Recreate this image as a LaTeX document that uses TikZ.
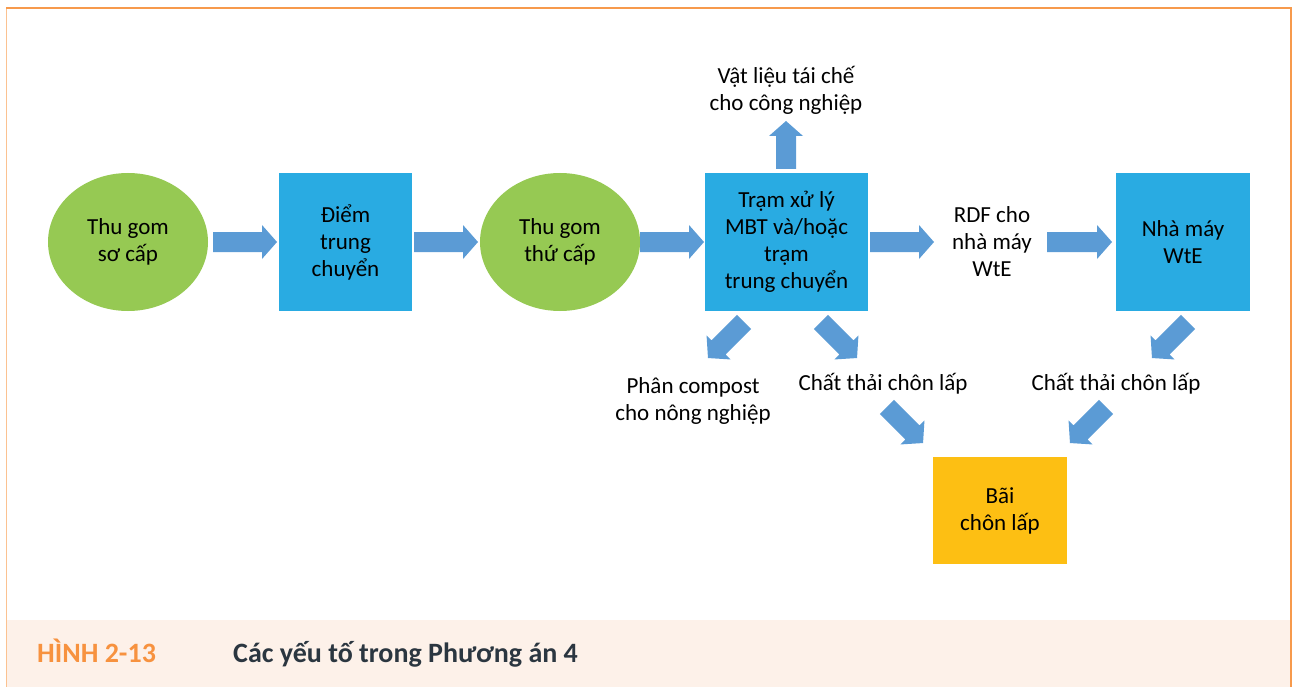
\documentclass[tikz,border=0pt]{standalone}
\usepackage{fontspec}
\setmainfont{Carlito}
\usetikzlibrary{shapes.geometric}
\definecolor{cgreen}{HTML}{96C953}
\definecolor{cblue}{HTML}{29ABE2}
\definecolor{carrow}{HTML}{5B9BD5}
\definecolor{cgold}{HTML}{FDBF13}
\definecolor{corange}{HTML}{F79A4C}
\definecolor{clight}{HTML}{FBC291}
\definecolor{cband}{HTML}{FDF1E9}
\definecolor{cdark}{HTML}{2B3640}
\definecolor{ccap}{HTML}{F7923F}
% block arrow: centre x, centre y, angle, length
\newcommand\blkarr[4]{%
  \fill[blkfill, shift={(#1,#2)}, rotate=#3]
    ({-#4/2},-10) -- ({#4/2-15},-10) -- ({#4/2-15},-17) -- ({#4/2},0)
    -- ({#4/2-15},17) -- ({#4/2-15},10) -- ({-#4/2},10) -- cycle;}
\begin{document}
\begin{tikzpicture}[x=1pt,y=-1pt,
  txt/.style={align=center, font=\fontsize{23}{27}\selectfont, text=black, inner sep=0pt},
  oval/.style={ellipse, fill=cgreen, minimum width=160pt, minimum height=138pt, txt},
  sq/.style={rectangle, fill=cblue, minimum height=138pt, txt},
  blkfill/.style={fill=carrow},
  captxt/.style={font=\fontsize{28}{30}\selectfont\bfseries, inner sep=0pt, anchor=base west}
]
\useasboundingbox (0,0) rectangle (1292,687);
% frame and caption band
\fill[cband] (6,620) rectangle (1291,687);
\draw[clight, line width=1.6pt] (6.5,8) -- (6.5,687);
\draw[corange, line width=1.6pt] (6,8.3) -- (1291,8.3) -- (1291,687);
\node[captxt, text=ccap] (fig) at (37,662) {HÌNH 2-13};
\node[captxt, text=cdark] (title) at (233,662) {Các yếu tố trong Phương án 4};

% main nodes
\node[oval] (tg1) at (128,242) {Thu gom\\sơ cấp};
\node[sq, minimum width=133pt] (dtc) at (345.5,242) {Điểm\\trung\\chuyển};
\node[oval] (tg2) at (560,242) {Thu gom\\thứ cấp};
\node[sq, minimum width=163pt] (mbt) at (786.5,242) {Trạm xử lý\\MBT và/hoặc\\trạm\\trung chuyển};
\node[txt] (rdf) at (992,242) {RDF cho\\nhà máy\\WtE};
\node[sq, minimum width=134pt] (wte) at (1183,242) {Nhà máy\\WtE};
\node[txt] (recyc) at (786,90) {Vật liệu tái chế\\cho công nghiệp};
\node[txt] (comp) at (693,401) {Phân compost\\cho nông nghiệp};
\node[txt] (ct1) at (883,384) {Chất thải chôn lấp};
\node[txt] (ct2) at (1116,384) {Chất thải chôn lấp};
\node[rectangle, fill=cgold, minimum width=134pt, minimum height=107pt, txt] (bcl) at (1000,510.5) {Bãi\\chôn lấp};

% block arrows
\blkarr{245}{242}{0}{64}
\blkarr{446}{242}{0}{64}
\blkarr{672}{242}{0}{64}
\blkarr{902}{242}{0}{64}
\blkarr{1079.5}{242}{0}{65}
\blkarr{786}{145}{90}{48}
\blkarr{726}{340}{225}{51}
\blkarr{839}{340}{-45}{51}
\blkarr{905}{425}{-45}{51}
\blkarr{1088}{425}{225}{51}
\blkarr{1170}{340}{225}{51}
\end{tikzpicture}
\end{document}
